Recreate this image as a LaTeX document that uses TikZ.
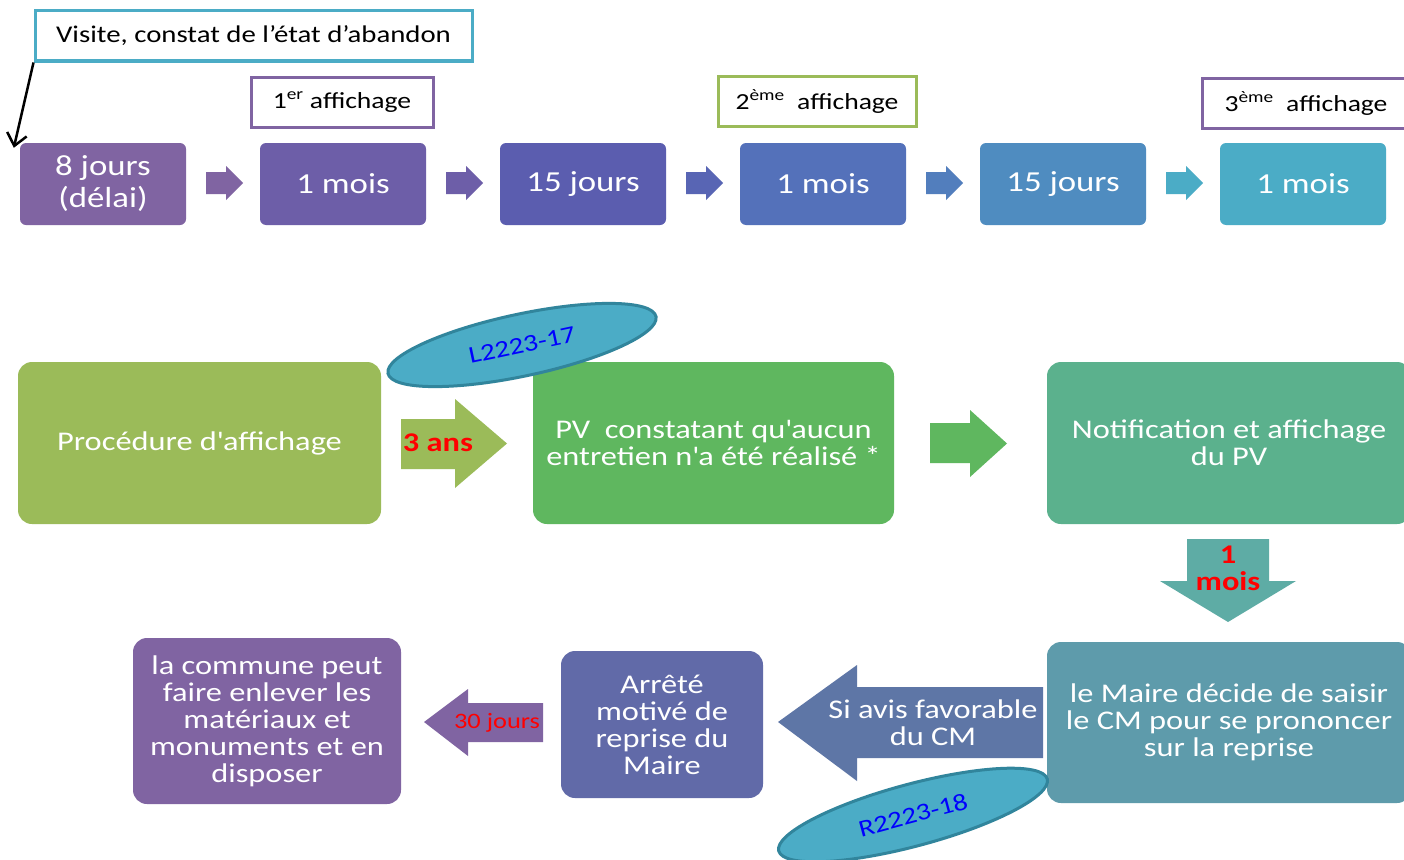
\documentclass[tikz,border=0pt]{standalone}
\usepackage{fontspec}
\setmainfont{Carlito}[FakeStretch=1.2]
\usepackage{tikz}
\usetikzlibrary{shapes.geometric,arrows.meta}

\definecolor{t1}{RGB}{128,100,162}
\definecolor{t2}{RGB}{109,94,168}
\definecolor{t3}{RGB}{91,93,175}
\definecolor{t4}{RGB}{84,113,186}
\definecolor{t5}{RGB}{79,140,192}
\definecolor{t6}{RGB}{75,172,198}
\definecolor{aquafonce}{RGB}{49,133,156}
\definecolor{olive}{RGB}{155,187,89}
\definecolor{vertpv}{RGB}{95,183,95}
\definecolor{turquoise}{RGB}{91,177,141}
\definecolor{sarcelle}{RGB}{94,172,165}
\definecolor{bleugris}{RGB}{94,155,171}
\definecolor{ardoise}{RGB}{94,118,166}
\definecolor{indigo}{RGB}{97,106,168}

\tikzset{
  boite/.style={rounded corners=6pt, text=white, align=center, font=\fontsize{29}{32}\selectfont, minimum width=166pt, minimum height=82pt},
  grande/.style={rounded corners=14pt, text=white, align=center, font=\fontsize{27}{27}\selectfont},
  etiquette/.style={draw, line width=3pt, fill=white, font=\fontsize{23}{24}\selectfont, minimum height=50pt},
  rouge/.style={text=red, align=center, font=\fontsize{27}{27}\selectfont\bfseries},
  loi/.style={ellipse, fill=t6, draw=aquafonce, line width=3pt, text=blue, inner sep=0pt, font=\fontsize{24}{26}\selectfont}
}

\begin{document}
\begin{tikzpicture}[x=1pt,y=-1pt]
\fill[white] (0,0) rectangle (1404,859);
\useasboundingbox (0,0) rectangle (1404,859);

\node[etiquette, draw=t6, minimum width=437pt, font=\fontsize{24}{24}\selectfont] (visite) at (253.5,36) {Visite, constat de l’état d’abandon};
\node[etiquette, draw=t1, minimum width=182pt] (aff1) at (342,102) {1\textsuperscript{er} affichage};
\node[etiquette, draw=olive, minimum width=198pt] (aff2) at (817,101.5) {2\textsuperscript{ème}\ \ affichage};
\node[etiquette, draw=t1, minimum width=208pt] (aff3) at (1306,103) {3\textsuperscript{ème}\ \ affichage};

\foreach \x/\nom/\col/\txt in {103/b0/t1/{8 jours\\(délai)}, 343/b1/t2/1 mois, 583/b2/t3/15 jours, 823/b3/t4/1 mois, 1063/b4/t5/15 jours, 1303/b5/t6/1 mois}
  \node[boite, fill=\col] (\nom) at (\x,184) {\txt};

\foreach \x/\col in {206/t1, 446/t2, 686/t3!60!t4, 926/t4!50!t5, 1166/t6}
  \fill[\col] (\x,172) -- (\x+20,172) -- (\x+20,166) -- (\x+37,183) -- (\x+20,200) -- (\x+20,194) -- (\x,194) -- cycle;

\draw[-{Straight Barb[length=12pt,width=20pt]}, line width=2.5pt] (visite.south west) -- ([xshift=-6pt,yshift=-5pt]b0.north west);

\node[grande, fill=olive, minimum width=363pt, minimum height=162pt] (proc) at (199.5,443) {Procédure d\textquotesingle affichage};
\node[grande, fill=vertpv, minimum width=361pt, minimum height=162pt] (pv) at (713.5,443) {PV\ \ constatant qu\textquotesingle aucun\\entretien n\textquotesingle a été réalisé *};
\node[grande, fill=turquoise, minimum width=364pt, minimum height=162pt] (notif) at (1229,443) {Notification et affichage\\du PV};

\fill[olive] (401,419) -- (455,419) -- (455,399) -- (507,443.5) -- (455,488) -- (455,469) -- (401,469) -- cycle;
\node[rouge] (ans) at (438,443) {3 ans};
\fill[vertpv] (930,423) -- (970,423) -- (970,410) -- (1007,443.5) -- (970,477) -- (970,463) -- (930,463) -- cycle;
\fill[sarcelle] (1187,539) -- (1269,539) -- (1269,581) -- (1296,581) -- (1228,622) -- (1160,581) -- (1187,581) -- cycle;
\node[rouge] (mois) at (1228,568) {1\\mois};

\node[grande, fill=bleugris, minimum width=364pt, minimum height=161pt] (maire) at (1229,722.5) {le Maire décide de saisir\\le CM pour se prononcer\\sur la reprise};
\fill[ardoise] (1043,687) -- (857,687) -- (857,665) -- (778,722) -- (857,781) -- (857,758) -- (1043,758) -- cycle;
\node[grande] (avis) at (933,723) {Si avis favorable\\du CM};
\node[grande, fill=indigo, minimum width=202pt, minimum height=147pt] (arrete) at (662,724.5) {Arrêté\\motivé de\\reprise du\\Maire};
\fill[t1] (543,703) -- (468,703) -- (468,689) -- (424,722) -- (468,756) -- (468,742) -- (543,742) -- cycle;
\node[text=red, font=\fontsize{22}{24}\selectfont] (jours) at (497,723) {30 jours};
\node[grande, fill=t1, minimum width=268pt, minimum height=166pt] (commune) at (267,721) {la commune peut\\faire enlever les\\matériaux et\\monuments et en\\disposer};

\node[loi, minimum width=274pt, minimum height=62pt, rotate=12] (l17) at (522,345) {L2223-17};
\node[loi, minimum width=278pt, minimum height=62pt, rotate=15] (r18) at (913,815) {R2223-18};
\end{tikzpicture}
\end{document}
